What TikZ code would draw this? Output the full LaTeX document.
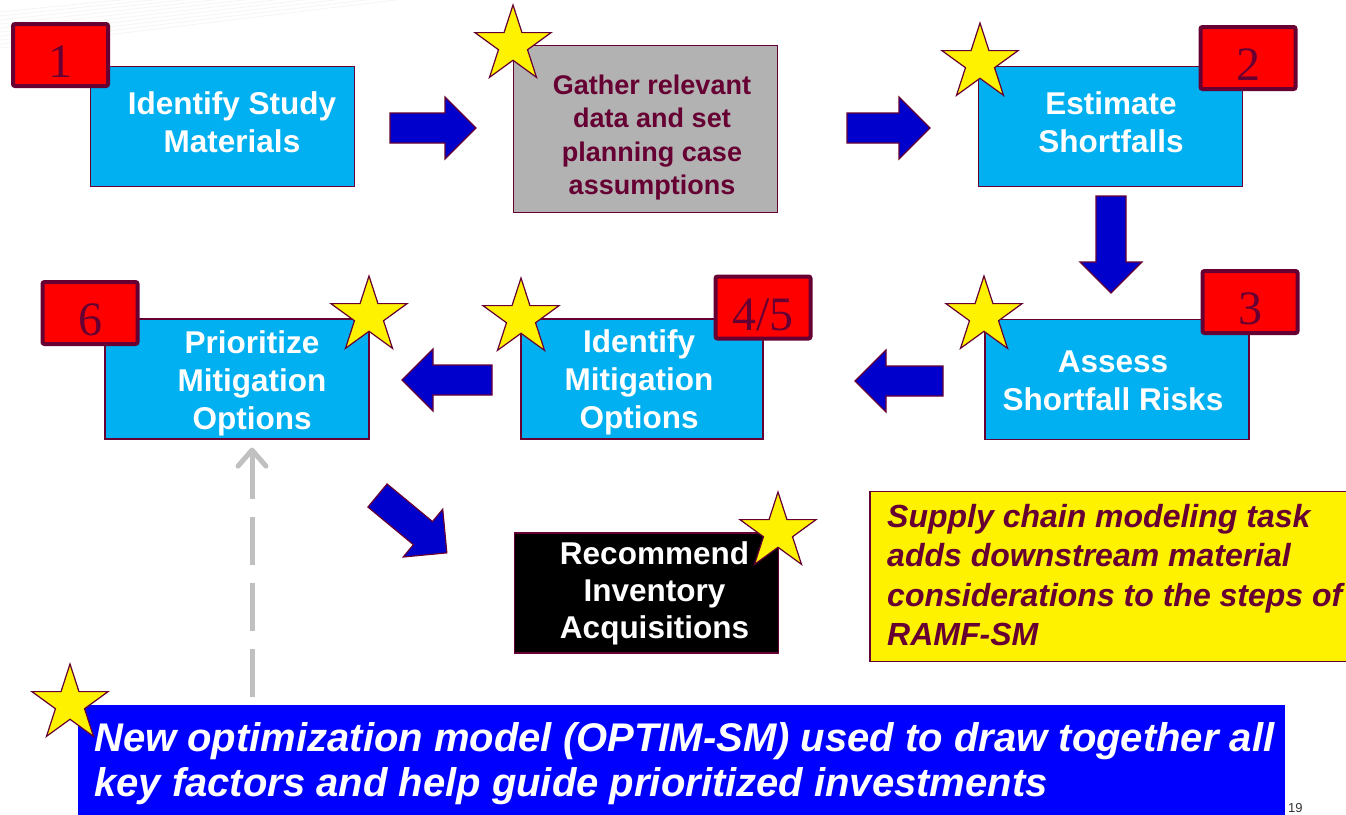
\documentclass[tikz,border=0pt]{standalone}
\usepackage{fontspec}
\setmainfont{Liberation Sans}
\newfontfamily\numfont{Liberation Serif}
\usetikzlibrary{shapes.geometric,arrows.meta,calc}

\definecolor{stepblue}{HTML}{00B0F0}
\definecolor{edgemaroon}{HTML}{660033}
\definecolor{arrowblue}{HTML}{0000CC}
\definecolor{boxgray}{HTML}{B2B2B2}
\definecolor{barblue}{HTML}{0000FF}
\definecolor{linkgray}{HTML}{C0C0C0}

\tikzset{
  stepbox/.style={draw=edgemaroon, line width=1.2pt, fill=stepblue, minimum width=264pt, minimum height=120pt, inner sep=0pt},
  numbox/.style={draw=edgemaroon, line width=4pt, fill=red, rounded corners=2pt, minimum width=95pt, minimum height=62pt, inner sep=0pt},
  numtext/.style={font=\numfont\fontsize{48}{48}\selectfont, text=edgemaroon, inner sep=0pt},
  steptext/.style={font=\bfseries\fontsize{31.5}{38}\selectfont, text=white, align=center, inner sep=0pt},
  starmark/.style={star, star points=5, star point ratio=2.618, minimum size=80pt, inner sep=0pt, fill=yellow, draw=edgemaroon, line width=1.2pt},
  blockarr/.pic={
    \draw[fill=arrowblue, draw=edgemaroon, line width=1.2pt] (0,15) -- (#1-31,15) -- (#1-31,31) -- (#1,0) -- (#1-31,-31) -- (#1-31,-15) -- (0,-15) -- cycle;
  },
}

\begin{document}
\begin{tikzpicture}[x=1pt, y=-1pt]
\useasboundingbox[fill=white] (0,0) rectangle (1346,814);
\foreach \k in {0,...,9}
  \draw[gray!8, line width=0.8pt] (0,12+4*\k) -- (150+30*\k,-3);

% steps
\node[stepbox] (ident) at (222.5,126.5) {};
\node[stepbox, fill=boxgray, minimum height=167pt] (gather) at (645.5,129) {};
\node[stepbox] (estim) at (1110.5,126.5) {};
\node[stepbox] (assess) at (1117,379.5) {};
\node[stepbox, minimum width=242pt] (idmit) at (642,379) {};
\node[stepbox] (prio) at (237,379) {};
\node[stepbox, fill=black] (recom) at (646.5,593) {};
\node[draw=edgemaroon, line width=1.2pt, fill=yellow, minimum width=490pt, minimum height=170pt, inner sep=0pt] (note) at (1115,576.5) {};
\node[fill=barblue, minimum width=1207pt, minimum height=120pt, inner sep=0pt] (optim) at (681.5,765) {};

\node[steptext] (identtxt) at (232,122.5) {Identify Study\\Materials};
\node[steptext, text=edgemaroon, font=\bfseries\fontsize{27}{33.5}\selectfont] (gathertxt) at (652,137.5) {Gather relevant\\data and set\\planning case\\assumptions};
\node[steptext] (estimtxt) at (1111,122.5) {Estimate\\Shortfalls};
\node[steptext] (assesstxt) at (1113,381) {Assess\\Shortfall Risks};
\node[steptext] (idmittxt) at (639,382) {Identify\\Mitigation\\Options};
\node[steptext] (priotxt) at (252,383) {Prioritize\\Mitigation\\Options};
\node[steptext, font=\bfseries\fontsize{31.5}{37}\selectfont] (recomtxt) at (654.5,593) {Recommend\\Inventory\\Acquisitions};
\node[anchor=west, align=left, inner sep=0pt, text=edgemaroon, font=\bfseries\itshape\fontsize{32}{39.5}\selectfont] (notetxt) at (887,575) {Supply chain modeling task\\adds downstream material\\considerations to the steps of\\RAMF-SM};
\node[anchor=west, align=left, inner sep=0pt, text=white, font=\bfseries\itshape\fontsize{40}{45}\selectfont] (optimtxt) at (94,764) {New optimization model (OPTIM-SM) used to draw together all\\key factors and help guide prioritized investments};

% block arrows
\pic at (390,128) {blockarr=86};
\pic at (847,128) {blockarr=83};
\pic[rotate=-90] at (1111,196) {blockarr=97};
\pic[rotate=180] at (943,381) {blockarr=88};
\pic[rotate=180] at (492,380) {blockarr=90};
\pic[rotate=-39.6] at (377.5,495.5) {blockarr=90};

% numbers
\node[numbox] (n1) at (60.5,55) {};
\node[numtext] (n1txt) at ([yshift=-7pt]n1.center) {1};
\node[numbox] (n2) at (1248,58) {};
\node[numtext] (n2txt) at ([yshift=-7pt]n2.center) {2};
\node[numbox] (n3) at (1250,302) {};
\node[numtext] (n3txt) at ([yshift=-7pt]n3.center) {3};
\node[numbox] (n45) at (763,307.5) {};
\node[numtext] (n45txt) at ([yshift=-7pt]n45.center) {4/5};
\node[numbox] (n6) at (90,313) {};
\node[numtext] (n6txt) at ([yshift=-7pt]n6.center) {6};

% stars
\node[starmark] (s1) at (513,45) {};
\node[starmark] (s2) at (980,63) {};
\node[starmark] (s3) at (984,316) {};
\node[starmark] (s4) at (521,318) {};
\node[starmark] (s5) at (369,316) {};
\node[starmark] (s6) at (778,532) {};
\node[starmark] (s7) at (70,704) {};

\draw[linkgray, line width=5pt, dash pattern=on 48pt off 18pt, -{Straight Barb[length=16pt,width=28pt,round]}, shorten <=8pt, shorten >=8pt] (optim.north -| priotxt) -- (priotxt |- prio.south);

\node[anchor=base west, inner sep=0pt, font=\fontsize{13}{13}\selectfont, text=black!80] (pageno) at (1288,812) {19};
\end{tikzpicture}
\end{document}
